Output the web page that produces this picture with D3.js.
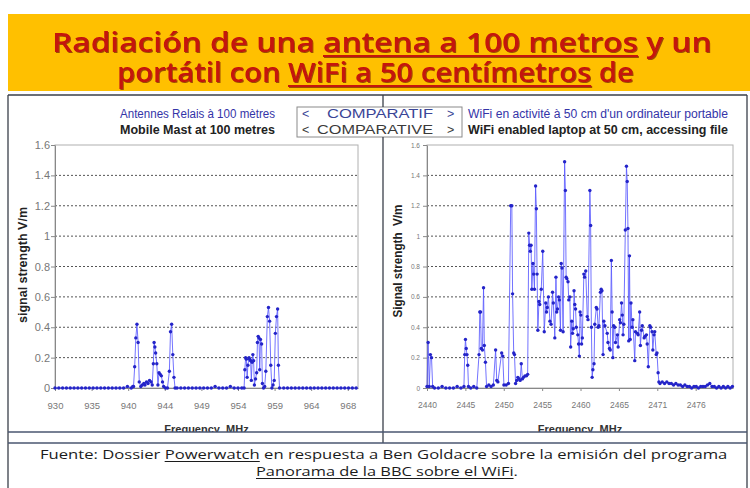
<!DOCTYPE html>
<html>
<head>
<meta charset="utf-8">
<script src="https://cdn.jsdelivr.net/npm/d3@7"></script>
<style>
  body { margin: 0; background: #fff; }
  svg { display: block; }
</style>
</head>
<body>
<div id="chart"></div>
<script>
// y axis, shared by both panels
const yTicks = [0, 0.2, 0.4, 0.6, 0.8, 1, 1.2, 1.4, 1.6];
const yTickLabels = ["0", "0.2", "0.4", "0.6", "0.8", "1", "1.2", "1.4", "1.6"];

// x axis ticks (Excel category labels, rounded MHz)
const mastTickValues = [930, 934.8, 939.6, 944.4, 949.2, 954, 958.8, 963.6, 968.4];
const mastTickLabels = ["930", "935", "940", "944", "949", "954", "959", "964", "968"];
const wifiTickValues = [2440, 2445.09, 2450.18, 2455.27, 2460.36, 2465.45, 2470.54, 2475.63];
const wifiTickLabels = ["2440", "2445", "2450", "2455", "2460", "2465", "2471", "2476"];

// [MHz, V/m]
const mastData = [
  [930, 0], [930.5, 0], [931, 0], [931.5, 0], [932, 0], [932.5, 0], [933, 0], [933.5, 0],
  [934, 0], [934.5, 0], [935, 0], [935.5, 0], [936, 0], [936.5, 0], [937, 0], [937.5, 0],
  [938, 0], [938.5, 0], [939, 0], [939.5, 0.01], [940, 0], [940.2, 0.01],
  [940.3, 0.01], [940.45, 0.14], [940.6, 0.33], [940.75, 0.42], [940.9, 0.30], [941.05, 0.04],
  [941.25, 0.01], [941.45, 0.02], [941.65, 0.03], [941.8, 0.02], [942.0, 0.04], [942.2, 0.03],
  [942.4, 0.05], [942.6, 0.04], [942.75, 0.02],
  [942.9, 0.16], [943.0, 0.30], [943.1, 0.27], [943.2, 0.23], [943.35, 0.16], [943.5, 0.02],
  [943.65, 0.10], [943.8, 0.09], [943.95, 0.08], [944.1, 0.04], [944.25, 0.01], [944.5, 0], [944.75, 0],
  [945.0, 0.11], [945.15, 0.37], [945.3, 0.42], [945.45, 0.22], [945.6, 0.07], [945.75, 0],
  [946, 0], [946.5, 0], [947, 0], [947.5, 0], [948, 0], [948.5, 0], [949, 0], [949.5, 0],
  [950, 0], [950.5, 0], [951, 0.01], [951.5, 0], [952, 0], [952.5, 0], [953, 0.01], [953.5, 0],
  [954, 0], [954.5, 0],
  [954.8, 0], [954.9, 0.12], [955.0, 0.20], [955.1, 0.19], [955.2, 0.07], [955.3, 0.15],
  [955.45, 0.20], [955.55, 0.19], [955.65, 0.18], [955.75, 0.05], [955.85, 0.17], [955.95, 0.22],
  [956.05, 0.18], [956.15, 0.02], [956.3, 0.06], [956.45, 0.10], [956.55, 0.30], [956.65, 0.34],
  [956.75, 0.33], [956.85, 0.12], [956.95, 0.32], [957.1, 0.29], [957.2, 0.03], [957.35, 0],
  [957.5, 0.01], [957.65, 0.11], [957.85, 0.47], [958.0, 0.53], [958.15, 0.44], [958.3, 0.15],
  [958.45, 0], [958.6, 0.02], [958.75, 0.05], [958.9, 0.36], [959.05, 0.47], [959.2, 0.52],
  [959.3, 0.15], [959.45, 0],
  [960, 0], [960.5, 0], [961, 0], [961.5, 0], [962, 0], [962.5, 0], [963, 0], [963.5, 0],
  [964, 0], [964.5, 0], [965, 0], [965.5, 0], [966, 0], [966.5, 0], [967, 0], [967.5, 0],
  [968, 0], [968.5, 0], [969, 0], [969.5, 0]
];

const wifiData = [
  [2440.0, 0.01], [2440.15, 0.30], [2440.3, 0.01], [2440.45, 0.22], [2440.6, 0.20], [2440.75, 0.01],
  [2441, 0], [2441.5, 0], [2442, 0.01], [2442.5, 0], [2443, 0], [2443.5, 0], [2444, 0.01], [2444.5, 0],
  [2444.9, 0.01], [2445.0, 0.22], [2445.1, 0.32], [2445.2, 0.26], [2445.3, 0.22], [2445.4, 0.15],
  [2445.5, 0.01], [2445.8, 0], [2446.2, 0.01], [2446.6, 0],
  [2446.9, 0.22], [2447.0, 0.50], [2447.1, 0.50], [2447.2, 0.26], [2447.35, 0.25], [2447.5, 0.66],
  [2447.6, 0.28], [2447.75, 0.17], [2447.9, 0.01], [2448.2, 0.02], [2448.5, 0.01], [2448.8, 0.02],
  [2449.1, 0.25], [2449.25, 0.05], [2449.4, 0.04], [2449.9, 0.23], [2450.05, 0.21], [2450.2, 0.02],
  [2450.5, 0.02], [2450.8, 0.03],
  [2451.1, 1.20], [2451.25, 1.20], [2451.35, 0.62], [2451.5, 0.23], [2451.6, 0.22], [2451.75, 0.03],
  [2451.9, 0.05], [2452.05, 0.07], [2452.2, 0.06], [2452.35, 0.05], [2452.5, 0.16], [2452.65, 0.06],
  [2452.8, 0.07], [2453.0, 0.08], [2453.2, 0.08], [2453.35, 0.09],
  [2453.5, 1.02], [2453.6, 0.94], [2453.7, 0.90], [2453.8, 0.94], [2453.9, 0.65], [2454.05, 0.82],
  [2454.15, 0.75], [2454.25, 0.65], [2454.4, 1.33], [2454.5, 1.18], [2454.6, 0.75], [2454.7, 0.38],
  [2454.85, 0.57], [2454.95, 0.55], [2455.15, 0.65], [2455.35, 0.90], [2455.55, 0.37], [2455.75, 0.56],
  [2455.85, 0.50], [2455.95, 0.53], [2456.1, 0.60], [2456.3, 0.44], [2456.45, 0.42], [2456.65, 0.63],
  [2456.75, 0.56], [2456.95, 0.33], [2457.1, 0.73], [2457.2, 0.50], [2457.3, 0.52], [2457.45, 0.60],
  [2457.55, 0.58], [2457.7, 0.38], [2457.8, 0.82], [2457.9, 0.79], [2458.05, 0.37], [2458.25, 1.49],
  [2458.35, 1.30], [2458.45, 0.73], [2458.55, 0.72], [2458.7, 0.70], [2458.8, 0.58], [2458.95, 0.60],
  [2459.05, 0.27], [2459.2, 0.44], [2459.3, 0.36], [2459.4, 0.39], [2459.5, 0.64], [2459.6, 0.55],
  [2459.7, 0.52], [2459.8, 0.40], [2460.0, 0.35], [2460.1, 0.29], [2460.2, 0.21], [2460.3, 0.50],
  [2460.4, 0.48], [2460.5, 0.29], [2460.6, 0.33], [2460.8, 0.75], [2460.9, 0.73], [2461.05, 0.77],
  [2461.25, 0.47], [2461.35, 0.45], [2461.6, 1.30], [2461.7, 1.07], [2461.8, 0.40], [2461.9, 0.07],
  [2462.0, 0.12], [2462.15, 0.16], [2462.25, 0.42], [2462.45, 0.53], [2462.55, 0.52], [2462.7, 0.40],
  [2462.8, 0.41], [2463.0, 0.63], [2463.1, 0.65], [2463.2, 0.64], [2463.35, 0.22], [2463.45, 0.44],
  [2463.6, 0.41], [2463.9, 0.36], [2464.0, 0.30], [2464.2, 0.26], [2464.3, 0.25], [2464.45, 0.84],
  [2464.55, 0.50], [2464.65, 0.20], [2464.75, 0.41], [2464.9, 0.40], [2465.0, 0.30], [2465.25, 0.35],
  [2465.35, 0.27], [2465.55, 0.45], [2465.65, 0.43], [2465.8, 0.56], [2465.9, 0.48], [2466.0, 0.35],
  [2466.1, 0.42], [2466.3, 1.04], [2466.45, 1.46], [2466.55, 1.36], [2466.65, 1.05], [2466.75, 0.31],
  [2466.85, 0.87], [2466.95, 0.32], [2467.05, 0.56], [2467.2, 0.40], [2467.3, 0.45], [2467.55, 0.18],
  [2467.65, 0.37], [2467.9, 0.36], [2468.0, 0.35], [2468.2, 0.50], [2468.3, 0.28], [2468.45, 0.38],
  [2468.55, 0.41], [2468.8, 0.33], [2468.9, 0.34], [2469.1, 0.35], [2469.2, 0.29], [2469.35, 0.14],
  [2469.55, 0.41], [2469.65, 0.40], [2469.85, 0.37], [2469.95, 0.25], [2470.1, 0.35], [2470.2, 0.37],
  [2470.4, 0.22], [2470.5, 0.23], [2470.65, 0.10], [2470.75, 0.04], [2470.9, 0.03],
  [2471.2, 0.04], [2471.5, 0.03], [2471.8, 0.04], [2472.1, 0.03], [2472.4, 0.03], [2472.7, 0.02],
  [2473.0, 0.03], [2473.3, 0.02], [2473.6, 0.02], [2473.9, 0.01], [2474.2, 0.02], [2474.5, 0.01],
  [2474.8, 0.01], [2475.1, 0], [2475.4, 0.01], [2475.7, 0.01], [2476.0, 0], [2476.3, 0.01],
  [2476.6, 0.01], [2476.9, 0.01], [2477.2, 0.02], [2477.5, 0.03], [2477.8, 0.01], [2478.1, 0.01],
  [2478.4, 0], [2478.7, 0.01], [2479.0, 0], [2479.3, 0.01], [2479.6, 0], [2479.9, 0.01],
  [2480.2, 0], [2480.5, 0.01]
];

const titleLine1 = [["Radiación de una ", false], ["antena a 100 metros", true], [" y un", false]];
const titleLine2 = [["portátil con ", false], ["WiFi a 50 centímetros", true], [" de", false]];
const footLine1 = [["Fuente: Dossier ", false], ["Powerwatch", true], [" en respuesta a Ben Goldacre sobre la emisión del programa", false]];
const footLine2 = [["Panorama de la BBC sobre el WiFi", true], [".", false]];

const W = 750, H = 488;
const svg = d3.select("#chart").append("svg").attr("width", W).attr("height", H);
const labelFont = "'Liberation Sans', Arial, sans-serif";
const textFont = "'Open Sans', 'Noto Sans', sans-serif";

// soft dark shadow under the title
svg.append("defs").append("filter").attr("id", "shadow")
  .attr("x", "-5%").attr("y", "-20%").attr("width", "110%").attr("height", "140%")
  .append("feDropShadow").attr("dx", 1).attr("dy", 1).attr("stdDeviation", 0.4)
  .attr("flood-color", "#5a0000").attr("flood-opacity", 0.6);

// text made of segments, some underlined, stretched horizontally to a given width
function richText(g, segs, o) {
  const box = g.append("g");
  const t = box.append("text")
    .attr("x", 0).attr("y", o.y)
    .attr("font-family", o.family).attr("font-size", o.size)
    .attr("font-weight", o.weight || 400)
    .attr("fill", o.fill)
    .style("white-space", "pre");
  segs.forEach(([s]) => t.append("tspan").text(s));
  const n = t.node();
  const sx = o.width / n.getComputedTextLength();
  box.attr("transform", `translate(${o.left},0) scale(${sx},1)`);
  let i = 0;
  segs.forEach(([s, u]) => {
    if (u) {
      const x0 = n.getStartPositionOfChar(i).x;
      const x1 = n.getEndPositionOfChar(i + s.length - 1).x;
      box.append("line").attr("x1", x0).attr("x2", x1)
        .attr("y1", o.y + o.ulOff).attr("y2", o.y + o.ulOff)
        .attr("stroke", o.ulColor || o.fill).attr("stroke-width", o.ulWidth);
    }
    i += s.length;
  });
}

// ---- title banner
svg.append("rect").attr("x", 8).attr("y", 14).attr("width", W - 8).attr("height", 77).attr("fill", "#ffc000");
const title = svg.append("g").attr("filter", "url(#shadow)");
[[titleLine1, 52, 52, 660], [titleLine2, 82, 117, 517]].forEach(([segs, y, left, width]) => {
  richText(title, segs, {left, y, width, size: 27, family: textFont, weight: 600, fill: "#c4120c", ulOff: 4, ulWidth: 2.2});
});

// ---- chart panels
const y = d3.scaleLinear().domain([0, 1.6]).range([388, 145]);

function drawPanel(p) {
  const g = svg.append("g");
  const x = d3.scaleLinear().domain(p.domain).range(p.range);
  const [x0, x1] = p.range;

  g.append("rect").attr("x", x0).attr("y", y(1.6)).attr("width", x1 - x0).attr("height", y(0) - y(1.6))
    .attr("fill", "#fff").attr("stroke", "#b0b0b0");

  g.selectAll(".grid").data(yTicks.filter(d => d > 0 && d < 1.6)).join("line")
    .attr("x1", x0).attr("x2", x1).attr("y1", d => y(d)).attr("y2", d => y(d))
    .attr("stroke", "#555").attr("stroke-dasharray", "2,2");

  const ya = g.append("g").attr("transform", `translate(${x0},0)`)
    .call(d3.axisLeft(y).tickValues(yTicks).tickFormat((d, i) => yTickLabels[i])
      .tickSizeInner(4).tickSizeOuter(0).tickPadding(p.yPad));
  ya.select(".domain").attr("stroke", "#888");
  ya.selectAll(".tick line").attr("stroke", "#888");
  ya.selectAll("text").attr("fill", "#777").attr("font-family", labelFont).attr("font-size", p.yFont);

  const xa = g.append("g").attr("transform", `translate(0,${y(0)})`)
    .call(d3.axisBottom(x).tickValues(p.tickValues).tickFormat((d, i) => p.tickLabels[i])
      .tickSizeInner(3).tickSizeOuter(0).tickPadding(p.xPad));
  xa.select(".domain").attr("stroke", "#888");
  xa.selectAll(".tick line").attr("stroke", "#888");
  xa.selectAll("text").attr("fill", "#777").attr("font-family", labelFont).attr("font-size", p.xFont);

  const line = d3.line().x(d => x(d[0])).y(d => y(d[1]));
  g.append("path").datum(p.data).attr("d", line)
    .attr("fill", "none").attr("stroke", "#5b5bff").attr("stroke-width", 1).attr("stroke-opacity", 0.85);
  g.selectAll(".pt").data(p.data).join("circle")
    .attr("cx", d => x(d[0])).attr("cy", d => y(d[1])).attr("r", 1.7)
    .attr("fill", "#2424c8");

  g.append("text")
    .attr("transform", `translate(${p.yTitleX},${p.yTitleY}) rotate(-90)`)
    .attr("text-anchor", "middle").attr("font-family", labelFont).attr("font-weight", 700)
    .attr("font-size", 12).attr("fill", "#222").style("white-space", "pre")
    .attr("textLength", p.yTitleLen).attr("lengthAdjust", "spacingAndGlyphs")
    .text(p.yTitle);

  g.append("text")
    .attr("x", (x0 + x1) / 2).attr("y", 433)
    .attr("text-anchor", "middle").attr("font-family", labelFont).attr("font-weight", 700)
    .attr("font-size", 11).attr("fill", "#333").style("white-space", "pre")
    .text("Frequency  MHz");
}

drawPanel({
  data: mastData, domain: [930, 969.74], range: [55, 358],
  tickValues: mastTickValues, tickLabels: mastTickLabels,
  yPad: 1, yFont: 11, xPad: 11, xFont: 9.5,
  yTitle: "signal strength V/m", yTitleX: 27, yTitleY: 265, yTitleLen: 116
});
drawPanel({
  data: wifiData, domain: [2440, 2480.58], range: [427, 733],
  tickValues: wifiTickValues, tickLabels: wifiTickLabels,
  yPad: 3, yFont: 6.5, xPad: 11, xFont: 8.5,
  yTitle: "Signal strength  V/m", yTitleX: 402, yTitleY: 261, yTitleLen: 113
});

// ---- chart headings
function fitted(x, yy, len, txt, fill, weight) {
  svg.append("text").attr("x", x).attr("y", yy)
    .attr("font-family", labelFont).attr("font-size", 12).attr("font-weight", weight)
    .attr("fill", fill).style("white-space", "pre")
    .attr("textLength", len).attr("lengthAdjust", "spacingAndGlyphs").text(txt);
}
fitted(120, 118, 155, "Antennes Relais à 100 mètres", "#3434a8", 400);
fitted(120, 134, 155, "Mobile Mast at 100 metres", "#222", 700);
fitted(468, 118, 260, "WiFi en activité à 50 cm d'un ordinateur portable", "#3434a8", 400);
fitted(468, 134, 260, "WiFi enabled laptop at 50 cm, accessing file", "#222", 700);

svg.append("rect").attr("x", 297).attr("y", 107).attr("width", 165).attr("height", 30)
  .attr("fill", "#fff").attr("stroke", "#8a8a8a");
[[118, "#3a4596", 327, 106, "COMPARATIF"], [134, "#3a3a3a", 317, 116, "COMPARATIVE"]].forEach(([yy, c, x, len, s]) => {
  svg.append("text").attr("x", 302).attr("y", yy).attr("font-family", labelFont).attr("font-size", 12.5).attr("fill", c).text("<");
  svg.append("text").attr("x", 447).attr("y", yy).attr("font-family", labelFont).attr("font-size", 12.5).attr("fill", c).text(">");
  svg.append("text").attr("x", x).attr("y", yy).attr("font-family", labelFont).attr("font-size", 12.5).attr("fill", c)
    .attr("textLength", len).attr("lengthAdjust", "spacingAndGlyphs").text(s);
});

// ---- table frame and footer
svg.append("rect").attr("x", 9).attr("y", 432).attr("width", 737).attr("height", H - 432).attr("fill", "#fff");
const frame = svg.append("g").attr("stroke", "#3a3f4a").attr("stroke-width", 1.3);
frame.append("line").attr("x1", 8).attr("x2", 747).attr("y1", 95).attr("y2", 95);
frame.append("line").attr("x1", 8).attr("x2", 8).attr("y1", 95).attr("y2", H);
frame.append("line").attr("x1", 747).attr("x2", 747).attr("y1", 95).attr("y2", H);
frame.append("line").attr("x1", 383).attr("x2", 383).attr("y1", 95).attr("y2", 107);
frame.append("line").attr("x1", 383).attr("x2", 383).attr("y1", 137).attr("y2", 443);
frame.append("line").attr("x1", 8).attr("x2", 747).attr("y1", 432).attr("y2", 432).attr("stroke", "#4a5670");
frame.append("line").attr("x1", 8).attr("x2", 747).attr("y1", 443).attr("y2", 443).attr("stroke", "#4a5670");

const foot = svg.append("g");
richText(foot, footLine1, {left: 40, y: 459, width: 688, size: 13, family: textFont, fill: "#1c1c1c", ulOff: 2.5, ulWidth: 1});
richText(foot, footLine2, {left: 256, y: 476, width: 262, size: 13, family: textFont, fill: "#1c1c1c", ulOff: 2.5, ulWidth: 1});
</script>
</body>
</html>
